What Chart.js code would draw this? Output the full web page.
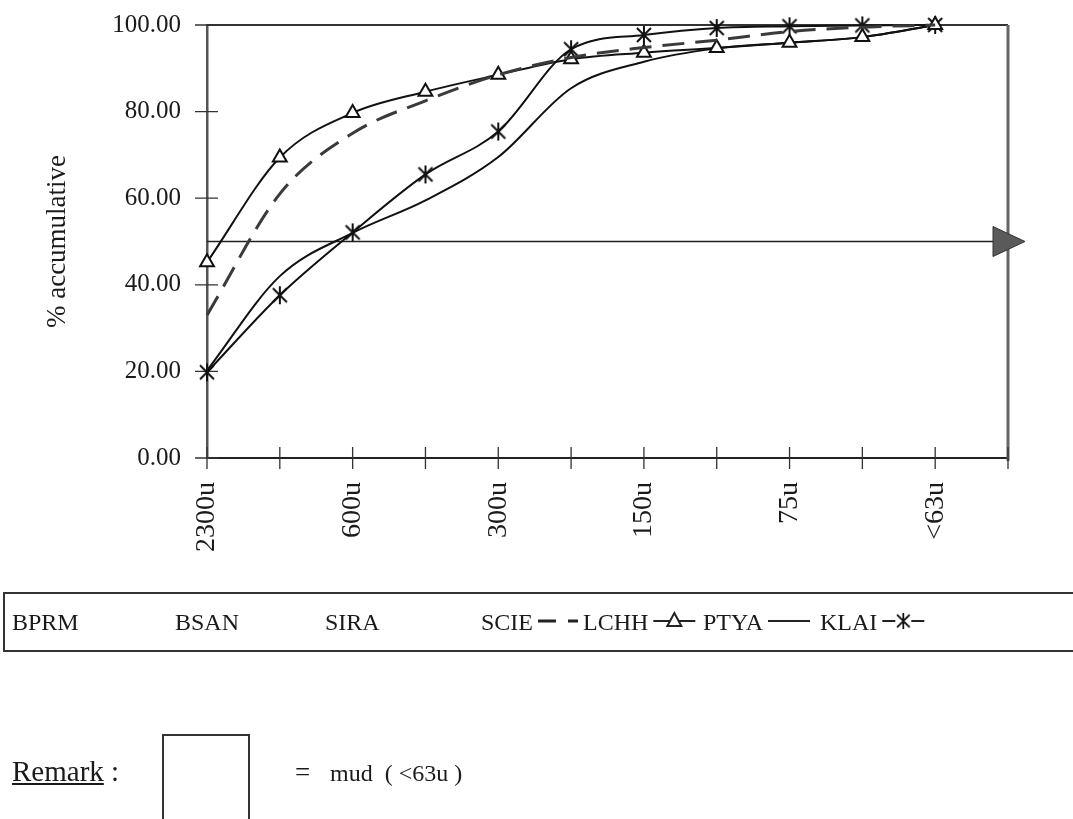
<!DOCTYPE html>
<html>
<head>
<meta charset="utf-8">
<script src="https://cdn.jsdelivr.net/npm/chart.js@4.4.1/dist/chart.umd.min.js"></script>
<style>
  html, body { margin: 0; padding: 0; background: #fff; }
  #wrap { position: relative; width: 1073px; height: 819px; overflow: hidden; }
  #graf { position: absolute; left: 0; top: 0; }
  .remark { position: absolute; font-family: "Liberation Serif", serif; font-size: 29px; color: #1a1a1a; }
  #remarkBox { position: absolute; left: 162px; top: 734px; width: 84px; height: 90px; border: 2px solid #333; border-bottom: none; }
</style>
</head>
<body>
<div id="wrap">
  <canvas id="graf" width="1073" height="819"></canvas>
  <div class="remark" style="left:12px; top:755px;"><u>Remark</u> :</div>
  <div id="remarkBox"></div>
  <div class="remark" style="left:295px; top:757px; font-size:27px;">=</div>
  <div class="remark" style="left:330px; top:760px; font-size:24px;">mud&nbsp; ( &lt;63u )</div>
</div>
<script>
// categorias (peneiras) - so metade tem rotulo no grafico original
var categorias = ['2300u', '', '600u', '', '300u', '', '150u', '', '75u', '', '<63u', ''];
var valoresY = [0, 20, 40, 60, 80, 100];
var linhaReferencia = 50;

// series (% acumulada)
var nomesLegenda = ['BPRM', 'BSAN', 'SIRA', 'SCIE', 'LCHH', 'PTYA', 'KLAI'];
var scie = [33, 61, 75, 82.5, 88.5, 92.5, 94.8, 96.5, 98.5, 99.5, 100];
var lchh = [45.2, 69.4, 79.7, 84.6, 88.5, 92.1, 93.6, 94.7, 95.9, 97.2, 100];
var ptya = [20.2, 42, 52, 59.5, 69.5, 85.4, 91.5, 94.6, 95.9, 97.2, 100];
var klai = [19.8, 37.6, 52.1, 65.5, 75.4, 94.4, 97.7, 99.3, 99.7, 99.9, 100];

// marcador estrela (X com traco vertical, estilo Excel)
var estrela = document.createElement('canvas');
estrela.width = 20; estrela.height = 20;
(function () {
    var c = estrela.getContext('2d');
    c.strokeStyle = '#111';
    c.lineWidth = 2;
    c.beginPath();
    c.moveTo(3, 3); c.lineTo(17, 17);
    c.moveTo(17, 3); c.lineTo(3, 17);
    c.moveTo(10, 1); c.lineTo(10, 19);
    c.stroke();
})();

var serifa = '"Liberation Serif", "Times New Roman", serif';

var vazio = { data: [], borderColor: 'transparent', pointRadius: 0, borderWidth: 0 };

var datasets = [
    Object.assign({ label: nomesLegenda[0], amostra: 'nada' }, vazio),
    Object.assign({ label: nomesLegenda[1], amostra: 'nada' }, vazio),
    Object.assign({ label: nomesLegenda[2], amostra: 'nada' }, vazio),
    {
        label: nomesLegenda[3], data: scie, amostra: 'tracejado',
        borderColor: '#3a3a3a', borderWidth: 3, borderDash: [22, 11],
        pointRadius: 0, cubicInterpolationMode: 'monotone', clip: false
    },
    {
        label: nomesLegenda[4], data: lchh, amostra: 'triangulo',
        borderColor: '#111', borderWidth: 2,
        pointStyle: 'triangle', pointRadius: 8, pointBorderWidth: 2,
        pointBackgroundColor: '#fff', pointBorderColor: '#111',
        cubicInterpolationMode: 'monotone', clip: false
    },
    {
        label: nomesLegenda[5], data: ptya, amostra: 'linha',
        borderColor: '#111', borderWidth: 2, pointRadius: 0,
        cubicInterpolationMode: 'monotone', clip: false
    },
    {
        label: nomesLegenda[6], data: klai, amostra: 'estrela',
        borderColor: '#111', borderWidth: 2,
        pointStyle: estrela, pointRadius: 10,
        cubicInterpolationMode: 'monotone', clip: false
    }
];

// desenhos extras: moldura, marcas cruzadas, linha de 50% com seta, legenda
var extras = {
    id: 'extras',
    beforeDatasetsDraw: function (chart) {
        var ctx = chart.ctx, a = chart.chartArea;
        var sx = chart.scales.x, sy = chart.scales.y;
        ctx.save();
        // moldura superior e direita
        ctx.strokeStyle = '#333';
        ctx.lineWidth = 2;
        ctx.beginPath();
        ctx.moveTo(a.left, a.top); ctx.lineTo(a.right, a.top);
        ctx.stroke();
        ctx.strokeStyle = '#666';
        ctx.lineWidth = 3;
        ctx.beginPath();
        ctx.moveTo(a.right, a.top); ctx.lineTo(a.right, a.bottom + 3);
        ctx.stroke();
        // marcas cruzando os eixos
        ctx.strokeStyle = '#333';
        ctx.lineWidth = 1.3;
        ctx.beginPath();
        sy.ticks.forEach(function (t) {
            var y = sy.getPixelForValue(t.value);
            ctx.moveTo(a.left - 12, y); ctx.lineTo(a.left + 11, y);
        });
        for (var i = 0; i < categorias.length; i++) {
            var x = sx.getPixelForValue(i);
            ctx.moveTo(x, a.bottom - 11); ctx.lineTo(x, a.bottom + 11);
        }
        ctx.stroke();
        // linha de referencia 50% com seta
        var yr = sy.getPixelForValue(linhaReferencia);
        ctx.strokeStyle = '#222';
        ctx.lineWidth = 1.5;
        ctx.beginPath();
        ctx.moveTo(a.left, yr); ctx.lineTo(a.right - 12, yr);
        ctx.stroke();
        ctx.fillStyle = '#5a5a5a';
        ctx.strokeStyle = '#333';
        ctx.lineWidth = 1;
        ctx.beginPath();
        ctx.moveTo(a.right - 15, yr - 15);
        ctx.lineTo(a.right + 17, yr);
        ctx.lineTo(a.right - 15, yr + 15);
        ctx.closePath();
        ctx.fill();
        ctx.stroke();
        ctx.restore();
    },
    afterDraw: function (chart) {
        var ctx = chart.ctx;
        ctx.save();
        // caixa da legenda (aberta a direita)
        ctx.strokeStyle = '#333';
        ctx.lineWidth = 2;
        ctx.beginPath();
        ctx.moveTo(1080, 593); ctx.lineTo(4, 593); ctx.lineTo(4, 651); ctx.lineTo(1080, 651);
        ctx.stroke();
        var posX = [12, 175, 325, 481, 583, 703, 820];
        ctx.font = '24px ' + serifa;
        ctx.fillStyle = '#1a1a1a';
        ctx.textBaseline = 'alphabetic';
        chart.data.datasets.forEach(function (ds, i) {
            var x = posX[i], yb = 630, ym = 621;
            ctx.fillText(ds.label, x, yb);
            var x0 = x + ctx.measureText(ds.label).width + 5, x1 = x0 + 42;
            ctx.strokeStyle = '#222';
            ctx.lineWidth = 2;
            if (ds.amostra === 'nada') return;
            ctx.beginPath();
            if (ds.amostra === 'tracejado') {
                ctx.lineWidth = 3;
                ctx.moveTo(x0, ym); ctx.lineTo(x0 + 18, ym);
                ctx.moveTo(x0 + 30, ym); ctx.lineTo(x1 - 2, ym);
            } else {
                ctx.moveTo(x0, ym); ctx.lineTo(x1, ym);
            }
            ctx.stroke();
            var xc = (x0 + x1) / 2;
            if (ds.amostra === 'triangulo') {
                ctx.fillStyle = '#fff';
                ctx.beginPath();
                ctx.moveTo(xc, ym - 8); ctx.lineTo(xc + 7, ym + 5); ctx.lineTo(xc - 7, ym + 5);
                ctx.closePath();
                ctx.fill(); ctx.stroke();
                ctx.fillStyle = '#1a1a1a';
            } else if (ds.amostra === 'estrela') {
                ctx.fillStyle = '#fff';
                ctx.fillRect(xc - 8, ym - 9, 16, 18);
                ctx.drawImage(estrela, xc - 9, ym - 9, 18, 18);
                ctx.fillStyle = '#1a1a1a';
            }
        });
        ctx.restore();
    }
};

var ctx = document.getElementById('graf').getContext('2d');
var grafico = new Chart(ctx, {
    type: 'line',
    data: {
        labels: categorias,
        datasets: datasets
    },
    plugins: [extras],
    options: {
        responsive: false,
        animation: false,
        layout: { padding: { left: 0, right: 65, top: 25, bottom: 261 } },
        plugins: {
            legend: { display: false },
            tooltip: { enabled: false }
        },
        scales: {
            x: {
                offset: false,
                grid: { display: false, drawTicks: false },
                border: { display: true, color: '#222', width: 2 },
                afterFit: function (s) { s.height = 100; },
                ticks: {
                    autoSkip: false,
                    minRotation: 90,
                    maxRotation: 90,
                    padding: 24,
                    color: '#1a1a1a',
                    font: { family: serifa, size: 28 }
                }
            },
            y: {
                min: 0,
                max: 100,
                afterFit: function (s) {
                    s.width = 207;
                    s.paddingTop = 0;
                    s.paddingBottom = 0;
                },
                afterBuildTicks: function (s) {
                    s.ticks = valoresY.map(function (v) { return { value: v }; });
                },
                grid: { display: false, drawTicks: false },
                border: { display: true, color: '#555', width: 2.5 },
                title: {
                    display: true,
                    text: '% accumulative',
                    color: '#1a1a1a',
                    font: { family: serifa, size: 27 },
                    padding: { top: 42, bottom: 0 }
                },
                ticks: {
                    padding: 26,
                    color: '#1a1a1a',
                    font: { family: serifa, size: 25 },
                    callback: function (v) { return Number(v).toFixed(2); }
                }
            }
        }
    }
});
</script>
</body>
</html>
